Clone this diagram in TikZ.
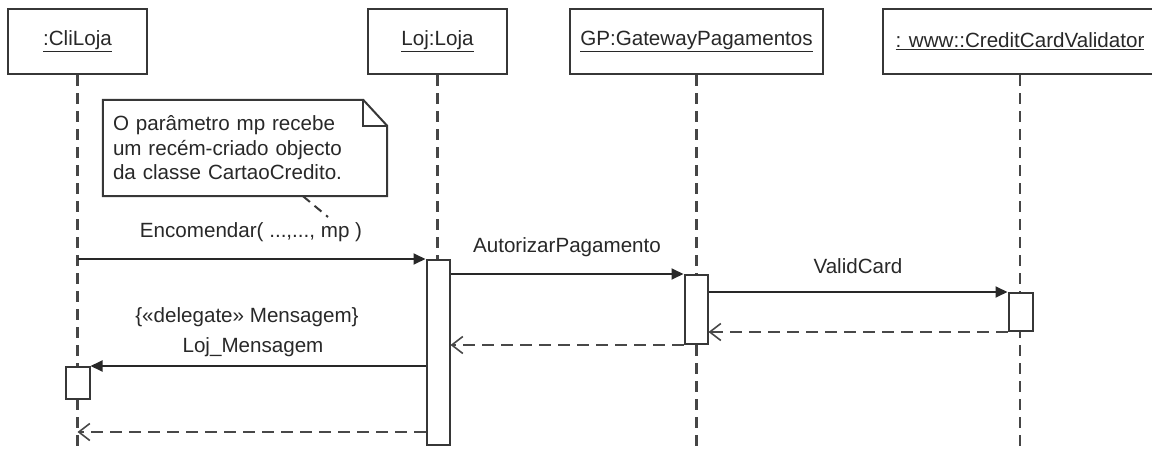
\documentclass[tikz,border=0pt]{standalone}
\usepackage{fontspec}
\setmainfont{Liberation Sans}
\usetikzlibrary{arrows.meta,calc}

\definecolor{ink}{RGB}{40,40,40}
\definecolor{edge}{RGB}{55,55,55}
\definecolor{lifegray}{RGB}{70,70,70}

\tikzset{
  every node/.style={font=\fontsize{20.6}{24.5}\selectfont, text=ink},
  objbox/.style={draw=edge, line width=2.2pt, fill=white, minimum height=65, inner sep=0pt},
  lifeline/.style={draw=lifegray, line width=2.2pt, dash pattern=on 11pt off 7pt},
  actbar/.style={draw=edge, line width=2pt, fill=white, minimum width=23, inner sep=0pt},
  callmsg/.style={draw=ink, line width=1.8pt, -{Triangle[length=12pt,width=11pt]}},
  retmsg/.style={draw=ink!85, line width=2pt, dash pattern=on 12pt off 7pt,
                 -{Straight Barb[length=11pt,width=17pt,line width=1.6pt]}},
  notebox/.style={minimum width=284, minimum height=96, inner sep=0pt, text width=264, align=left},
  noteline/.style={draw=edge, line width=2pt},
  msglabel/.style={inner sep=0pt}
}

\begin{document}
\begin{tikzpicture}[x=1pt,y=-1pt]
  \useasboundingbox (0,0) rectangle (1152,452);
  \clip (0,0) rectangle (1152,452);

  % participants
  \node[objbox, minimum width=139] (cli) at (77.5,41.5) {\underline{:CliLoja}};
  \node[objbox, minimum width=139] (loj) at (437.5,41.5) {\underline{Loj:Loja}};
  \node[objbox, minimum width=253] (gp)  at (696.5,41.5) {\underline{GP:GatewayPagamentos}};
  \node[objbox, minimum width=274] (ccv) at (1020,41.5) {\underline{: www::CreditCardValidator}};

  % lifeline ends
  \coordinate (cliEnd) at (78,460);
  \coordinate (lojEnd) at (438,460);
  \coordinate (gpEnd)  at (696,460);
  \coordinate (ccvEnd) at (1020,460);

  \draw[lifeline] (cli.south) -- (cli.south |- cliEnd);
  \draw[lifeline] (loj.south) -- (loj.south |- lojEnd);
  \draw[lifeline] (gp.south)  -- (gp.south |- gpEnd);
  \draw[lifeline] (ccv.south) -- (ccv.south |- ccvEnd);

  % activation bars
  \node[actbar, minimum height=185] (actLoj) at (438,352.5) {};
  \node[actbar, minimum height=69]  (actGP)  at (696,309.5) {};
  \node[actbar, minimum height=38, minimum width=24] (actCCV) at (1020.5,312) {};
  \node[actbar, minimum height=32, minimum width=24] (actCli) at (77.5,383) {};

  % note with folded corner
  \node[notebox] (note) at (245,148) {};
  \draw[noteline, fill=white]
    (note.south west) -- (note.north west) -- ([xshift=-24pt]note.north east)
    -- ([yshift=-26pt]note.north east) -- (note.south east) -- cycle;
  \draw[noteline] ([xshift=-24pt]note.north east) -- ([xshift=-24pt,yshift=-26pt]note.north east)
    -- ([yshift=-26pt]note.north east);
  \node[notebox] (noteText) at (note.center) {O parâmetro mp recebe\\um recém-criado objecto\\da classe CartaoCredito.};
  \coordinate (noteTip) at (328,217);
  \draw[noteline, dash pattern=on 9pt off 6pt] ([xshift=58pt]note.south) -- (noteTip);

  % messages
  \draw[callmsg] (cli.south |- actLoj.north west) -- (actLoj.north west);
  \node[msglabel] (lbEnc) at (251,232) {Encomendar( ...,..., mp )};

  \draw[callmsg] (actLoj.east |- actGP.north west) -- (actGP.north west);
  \node[msglabel] (lbAut) at (567,247) {AutorizarPagamento};

  \draw[callmsg] (actGP.east |- actCCV.north west) -- (actCCV.north west);
  \node[msglabel] (lbVal) at (858,266) {ValidCard};

  \draw[retmsg] (actCCV.south west) -- (actGP.east |- actCCV.south west);
  \draw[retmsg] (actGP.south west) -- (actLoj.east |- actGP.south west);

  \draw[callmsg] (actLoj.west |- actCli.north east) -- (actCli.north east);
  \node[msglabel] (lbDel) at (247,317) {\{«delegate» Mensagem\}};
  \node[msglabel] (lbLoj) at (253,347) {Loj\_Mensagem};

  \coordinate (retCli) at (0,432);
  \draw[retmsg] (actLoj.west |- retCli) -- (cli.south |- retCli);
\end{tikzpicture}
\end{document}
